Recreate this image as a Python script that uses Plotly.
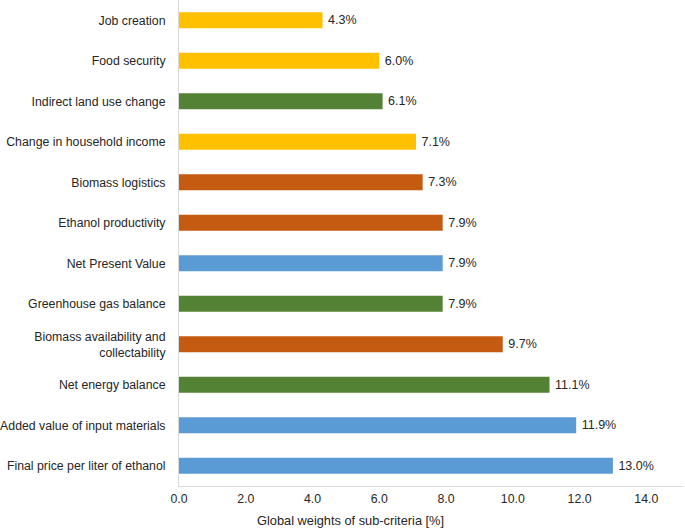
import plotly.graph_objects as go

categories = [
    "Job creation",
    "Food security",
    "Indirect land use change",
    "Change in household income",
    "Biomass logistics",
    "Ethanol productivity",
    "Net Present Value",
    "Greenhouse gas balance",
    "Biomass availability and<br>collectability",
    "Net energy balance",
    "Added value of input materials",
    "Final price per liter of ethanol",
]
values = [4.3, 6.0, 6.1, 7.1, 7.3, 7.9, 7.9, 7.9, 9.7, 11.1, 11.9, 13.0]
groups = ["social", "social", "env", "social", "tech", "tech", "econ", "env", "tech", "env", "econ", "econ"]
group_colors = {"social": "#FFC000", "env": "#548235", "tech": "#C55A11", "econ": "#5B9BD5"}
tick_vals = [0, 2, 4, 6, 8, 10, 12, 14]
tick_text = [f"{v:.1f}" for v in tick_vals]

fig = go.Figure(go.Bar(
    y=categories,
    x=values,
    orientation="h",
    marker=dict(color=[group_colors[g] for g in groups], line=dict(width=0)),
    width=0.4,
    text=[f"\u2009{v:.1f}%" for v in values],
    textposition="outside",
    textfont=dict(family="Liberation Sans, Arial", size=12.5, color="#262626"),
    cliponaxis=False,
))

fig.update_layout(
    width=685, height=531,
    margin=dict(l=179, r=2, t=0, b=45),
    plot_bgcolor="white", paper_bgcolor="white",
    font=dict(family="Liberation Sans, Arial", size=12.3, color="#262626"),
    showlegend=False,
    xaxis=dict(
        range=[0, 15.1], tickvals=tick_vals, ticktext=tick_text,
        showgrid=False, zeroline=False, showline=True, linecolor="#D9D9D9", linewidth=1,
        ticks="outside", ticklen=1, tickcolor="rgba(0,0,0,0)", automargin=False,
    ),
    yaxis=dict(
        range=[11.5, -0.5], showgrid=False, zeroline=False,
        showline=True, linecolor="#D9D9D9", linewidth=1,
        ticks="outside", ticklen=10, tickcolor="rgba(0,0,0,0)", automargin=False,
    ),
    annotations=[dict(
        text="Global weights of sub-criteria [%]", xref="paper", yref="paper",
        x=0.341, y=0, yshift=-34, xanchor="center", yanchor="middle", showarrow=False,
        font=dict(size=12.8, color="#262626"),
    )],
)

fig.write_html("out.html", config={"displayModeBar": False},
               post_script="document.body.style.margin='0';")
